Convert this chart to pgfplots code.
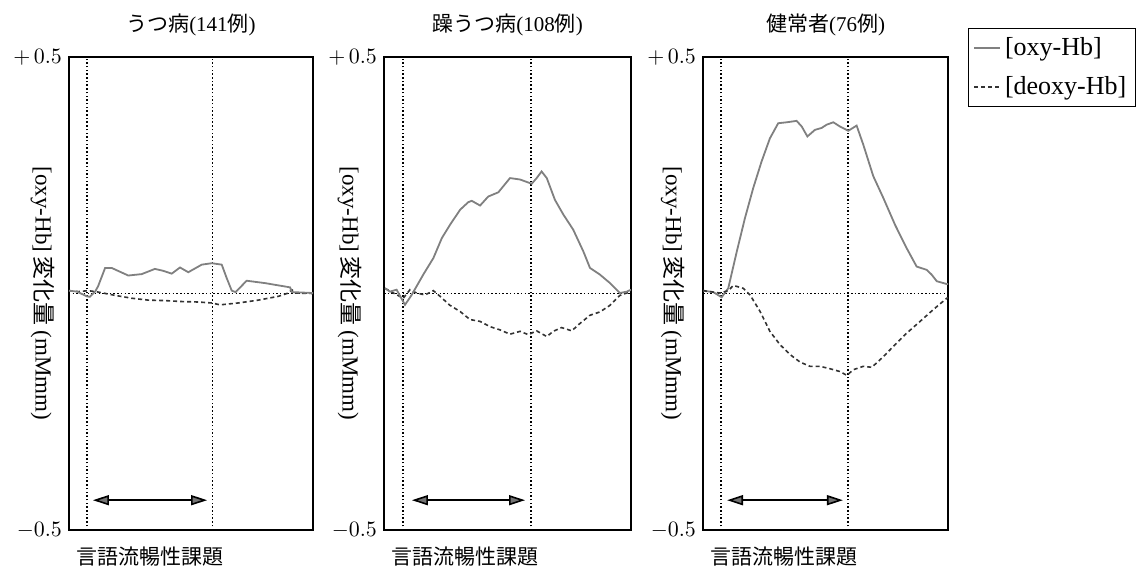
\documentclass[border=0pt]{standalone}
\usepackage{fontspec}
\setmainfont{Liberation Serif}
\newfontfamily\cjk{Noto Sans CJK JP}
\usepackage{pgfplots}
\pgfplotsset{compat=1.18}
\usetikzlibrary{arrows.meta}

\pgfplotsset{
  panel/.style={
    scale only axis, height=236.5pt,
    xmin=0, xmax=100, ymin=-0.5, ymax=0.5,
    xtick=\empty, ytick={-0.5,0.5}, yticklabels={$-0.5$,$+\,0.5$},
    major tick length=0pt,
    tick label style={font=\fontsize{10.5}{12}\selectfont},
    axis line style={black, line width=0.6pt},
    title style={at={(axis description cs:0.5,1.043)}, anchor=center, font=\fontsize{10.5}{12}\selectfont},
    xlabel={{\cjk 言語流暢性課題}},
    xlabel style={at={(axis description cs:0,-0.057)}, anchor=west, font=\fontsize{10.5}{12}\selectfont},
    ylabel={[oxy-Hb]\,{\cjk 変化量}\ (mMmm)},
    ylabel style={rotate=180, anchor=center, font=\fontsize{11.5}{13}\selectfont},
    clip=true,
  },
  oxy/.style={black!50, line width=0.9pt},
  deoxy/.style={black!80, line width=0.8pt, dash pattern=on 2pt off 1.5pt},
  vdot/.style={black, line width=0.75pt, dash pattern=on 0.75pt off 1.1pt, forget plot},
  harrow/.style={black, line width=0.8pt, forget plot,
    arrows={Triangle[length=8pt,width=5pt,fill=black!55]-Triangle[length=8pt,width=5pt,fill=black!55]}},
}

\pgfplotstableread{
x y
0 0.006
3.3 0.004
7.3 -0.006
8.5 -0.007
10.7 0.004
11.9 0.015
14.8 0.054
17.5 0.054
24.3 0.038
29.8 0.041
35.2 0.052
38.6 0.048
42.1 0.042
45.5 0.055
48.9 0.045
54.4 0.061
58.5 0.064
62.6 0.061
64.6 0.033
66.7 0.006
68.3 0.003
72.8 0.027
80.3 0.022
90.6 0.013
91.3 0.003
100 0.001
}\oxyA
\pgfplotstableread{
x y
0 0.006
3.8 0.004
7.9 0.006
12 0.003
18.9 -0.004
25.7 -0.010
32.5 -0.014
39.3 -0.015
46.2 -0.017
53 -0.018
58.5 -0.020
61.9 -0.024
69.4 -0.020
77.6 -0.014
85.8 -0.006
89.9 0.001
91.3 0.008
93 0.001
100 0.000
}\deoxyA
\pgfplotstableread{
x y
0.4 0.011
2.4 0.004
5.1 0.008
8.5 -0.024
11.2 -0.003
15.9 0.040
20 0.075
23.4 0.117
26.7 0.145
30.8 0.177
34.1 0.193
35.5 0.196
38.9 0.186
42.2 0.205
46.3 0.214
51 0.244
55.1 0.241
59.8 0.232
61.8 0.244
63.8 0.258
65.9 0.244
69.2 0.198
72.6 0.167
76.6 0.135
80.7 0.089
83.4 0.054
87.4 0.040
91.5 0.022
95.5 0.001
98.3 0.004
100 0.008
}\oxyB
\pgfplotstableread{
x y
0.4 0.011
3.8 0.001
7.8 -0.010
10.5 0.008
13.2 0.001
16.6 -0.003
20 0.006
22.7 -0.006
26.7 -0.025
30.8 -0.038
34.8 -0.055
38.9 -0.059
42.9 -0.070
47 -0.077
51 -0.086
55.1 -0.080
58.4 -0.087
61.8 -0.079
65.9 -0.091
68.5 -0.080
71.9 -0.072
76 -0.079
79.4 -0.063
83.4 -0.046
87.4 -0.039
91.5 -0.025
95.5 -0.004
98.3 0.001
100 0.004
}\deoxyB
\pgfplotstableread{
x y
0 0.006
4.2 0.003
7.6 -0.008
10.3 0.011
13.8 0.089
17.1 0.159
20.5 0.223
23.9 0.279
27.3 0.328
30.7 0.360
34.2 0.362
38.2 0.365
40.3 0.353
42.6 0.332
45.7 0.346
48.4 0.350
50.5 0.357
53.2 0.362
55.9 0.353
59.3 0.344
62.7 0.355
65.4 0.315
69.5 0.248
73.6 0.202
78.4 0.145
83.1 0.096
87.2 0.057
91.3 0.050
93.3 0.040
95.4 0.026
99.5 0.020
100 0.020
}\oxyC
\pgfplotstableread{
x y
0 0.006
6.9 0.001
10.3 0.006
12.4 0.017
16.4 0.011
19.2 -0.003
23.3 -0.038
27.3 -0.080
31.4 -0.108
35.5 -0.129
39.6 -0.145
43.7 -0.154
47.8 -0.154
51.8 -0.159
55.9 -0.165
58.7 -0.173
61.4 -0.161
65.4 -0.154
68.9 -0.156
72.9 -0.137
77.7 -0.112
83.1 -0.084
88.6 -0.059
94 -0.034
99.5 -0.010
100 -0.009
}\deoxyC

\begin{document}
\begin{tikzpicture}
\useasboundingbox (0,0) rectangle (570pt,289pt);

% Panel 1
\begin{axis}[panel, at={(34.5pt,24pt)}, anchor=south west, width=122pt,
  title={{\cjk うつ病}(141{\cjk 例})},
  ylabel style={at={(axis description cs:-0.107,0.5)}}]
\addplot[vdot] coordinates {(0,0) (100,0)};
\addplot[vdot] coordinates {(7.4,-0.5) (7.4,0.5)};
\addplot[vdot] coordinates {(58.8,-0.5) (58.8,0.5)};
\addplot[harrow] coordinates {(9.8,-0.437) (56.6,-0.437)};
\addplot[deoxy] table {\deoxyA};
\addplot[oxy] table {\oxyA};
\end{axis}

% Panel 2
\begin{axis}[panel, at={(192pt,24pt)}, anchor=south west, width=123.5pt,
  title={{\cjk 躁うつ病}(108{\cjk 例})},
  ylabel style={at={(axis description cs:-0.138,0.5)}}]
\addplot[vdot] coordinates {(0,0) (100,0)};
\addplot[vdot] coordinates {(7.7,-0.5) (7.7,0.5)};
\addplot[vdot] coordinates {(59.5,-0.5) (59.5,0.5)};
\addplot[harrow] coordinates {(11.3,-0.437) (57.1,-0.437)};
\addplot[deoxy] table {\deoxyB};
\addplot[oxy] table {\oxyB};
\end{axis}

% Panel 3
\begin{axis}[panel, at={(351.5pt,24pt)}, anchor=south west, width=122.5pt,
  title={{\cjk 健常者}(76{\cjk 例})},
  ylabel style={at={(axis description cs:-0.122,0.5)}},
  legend style={at={(axis description cs:1.082,1.061)}, anchor=north west,
    draw=black, line width=0.5pt, font=\fontsize{13}{15}\selectfont,
    row sep=5pt, inner sep=2.5pt},
  legend cell align=left,
  legend image code/.code={\draw[#1] (0cm,0cm) -- (0.45cm,0cm);}]
\addplot[vdot] coordinates {(0,0) (100,0)};
\addplot[vdot] coordinates {(7.3,-0.5) (7.3,0.5)};
\addplot[vdot] coordinates {(59.2,-0.5) (59.2,0.5)};
\addplot[harrow] coordinates {(9.8,-0.437) (57.1,-0.437)};
\addplot[oxy] table {\oxyC};
\addlegendentry{[oxy-Hb]}
\addplot[deoxy] table {\deoxyC};
\addlegendentry{[deoxy-Hb]}
\end{axis}
\end{tikzpicture}
\end{document}
